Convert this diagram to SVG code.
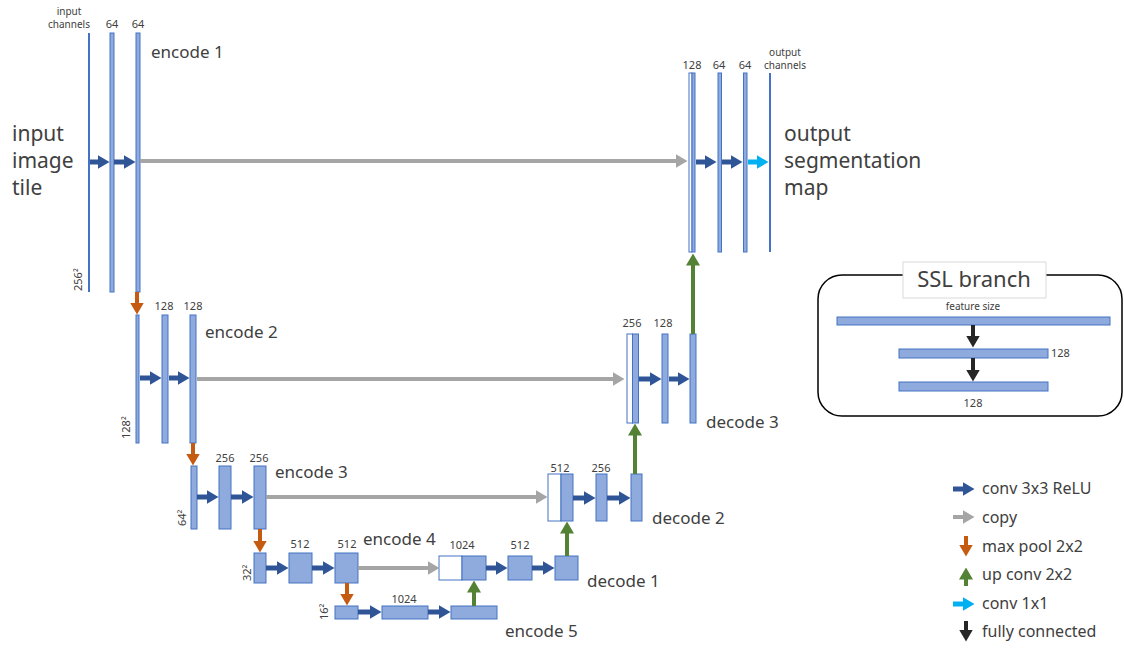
<svg xmlns="http://www.w3.org/2000/svg" width="1124" height="648" viewBox="0 0 1124 648">
<style>
text{font-family:"Noto Sans","Liberation Sans",sans-serif;fill:#404040}
.lay{fill:#8FAADC;stroke:#4472C4;stroke-width:1}
.wht{fill:#fff;stroke:#4472C4;stroke-width:1}
.ch{stroke:#4472C4;stroke-width:2}
.sz{font-size:11px;text-anchor:middle}
.tiny{font-size:10px;text-anchor:middle}
.name{font-size:17px}
.big{font-size:21px}
.rot{font-size:11px}
.leg{font-size:16px}
.conv{stroke:#2F5597;stroke-width:5;marker-end:url(#mConv)}
.copy{stroke:#A5A5A5;stroke-width:4;marker-end:url(#mCopy)}
.pool{stroke:#C55A11;stroke-width:4;marker-end:url(#mPool)}
.up{stroke:#548235;stroke-width:4;marker-end:url(#mUp)}
.c11{stroke:#00B0F0;stroke-width:5;marker-end:url(#m11)}
.fc{stroke:#262626;stroke-width:4;marker-end:url(#mFc)}
</style>
<defs>
<marker id="mConv" viewBox="0 0 12 14" markerWidth="12" markerHeight="14" refX="0.5" refY="7" orient="auto" markerUnits="userSpaceOnUse"><path d="M0,0 L12,7 L0,14 z" fill="#2F5597"/></marker>
<marker id="mCopy" viewBox="0 0 12 14" markerWidth="12" markerHeight="14" refX="0.5" refY="7" orient="auto" markerUnits="userSpaceOnUse"><path d="M0,0 L12,7 L0,14 z" fill="#A5A5A5"/></marker>
<marker id="mPool" viewBox="0 0 12 14" markerWidth="12" markerHeight="14" refX="0.5" refY="7" orient="auto" markerUnits="userSpaceOnUse"><path d="M0,0 L12,7 L0,14 z" fill="#C55A11"/></marker>
<marker id="mUp" viewBox="0 0 12 14" markerWidth="12" markerHeight="14" refX="0.5" refY="7" orient="auto" markerUnits="userSpaceOnUse"><path d="M0,0 L12,7 L0,14 z" fill="#548235"/></marker>
<marker id="m11" viewBox="0 0 12 14" markerWidth="12" markerHeight="14" refX="0.5" refY="7" orient="auto" markerUnits="userSpaceOnUse"><path d="M0,0 L12,7 L0,14 z" fill="#00B0F0"/></marker>
<marker id="mFc" viewBox="0 0 12 14" markerWidth="12" markerHeight="14" refX="0.5" refY="7" orient="auto" markerUnits="userSpaceOnUse"><path d="M0,0 L12,7 L0,14 z" fill="#262626"/></marker>
</defs>
<rect width="1124" height="648" fill="#fff"/>

<g id="input-label">
<text class="big" x="12" y="141">input</text>
<text class="big" x="12" y="168">image</text>
<text class="big" x="12" y="195">tile</text>
</g>
<g id="output-label">
<text class="big" x="784" y="141">output</text>
<text class="big" x="784" y="168">segmentation</text>
<text class="big" x="784" y="195">map</text>
</g>

<g id="encode1">
<line class="ch" x1="89" y1="33" x2="89" y2="292"/>
<rect class="lay" x="110" y="33" width="4" height="259"/>
<rect class="lay" x="136" y="33" width="4" height="259"/>
<text class="tiny" x="69" y="15">input</text>
<text class="tiny" x="69" y="28">channels</text>
<text class="sz" x="112" y="28">64</text>
<text class="sz" x="138" y="28">64</text>
<text class="name" x="151" y="58">encode 1</text>
<text class="rot" transform="translate(82,291) rotate(-90)">256²</text>
</g>

<g id="encode2">
<rect class="lay" x="136" y="315" width="3" height="128"/>
<rect class="lay" x="162" y="315" width="6" height="128"/>
<rect class="lay" x="190" y="315" width="6" height="128"/>
<text class="sz" x="164" y="310">128</text>
<text class="sz" x="193" y="310">128</text>
<text class="name" x="205" y="338">encode 2</text>
<text class="rot" transform="translate(130,439) rotate(-90)">128²</text>
</g>

<g id="encode3">
<rect class="lay" x="191" y="466" width="6" height="63"/>
<rect class="lay" x="219" y="466" width="12" height="63"/>
<rect class="lay" x="254" y="466" width="12" height="63"/>
<text class="sz" x="225" y="462">256</text>
<text class="sz" x="259" y="462">256</text>
<text class="name" x="275" y="478">encode 3</text>
<text class="rot" transform="translate(186,526) rotate(-90)">64²</text>
</g>

<g id="encode4">
<rect class="lay" x="254" y="553" width="12" height="30"/>
<rect class="lay" x="289" y="553" width="23" height="30"/>
<rect class="lay" x="335" y="553" width="23" height="30"/>
<text class="sz" x="300" y="548">512</text>
<text class="sz" x="347" y="548">512</text>
<text class="name" x="363" y="545">encode 4</text>
<text class="rot" transform="translate(251,581) rotate(-90)">32²</text>
</g>

<g id="encode5">
<rect class="lay" x="335" y="606" width="23" height="13"/>
<rect class="lay" x="382" y="606" width="46" height="13"/>
<rect class="lay" x="451" y="606" width="46" height="13"/>
<text class="sz" x="404" y="603">1024</text>
<text class="name" x="505" y="637">encode 5</text>
<text class="rot" transform="translate(328,620) rotate(-90)">16²</text>
</g>

<g id="decode1">
<rect class="wht" x="439" y="556" width="23" height="24"/>
<rect class="lay" x="462" y="556" width="24" height="24"/>
<rect class="lay" x="508" y="556" width="24" height="24"/>
<rect class="lay" x="555" y="556" width="23" height="24"/>
<text class="sz" x="462" y="549">1024</text>
<text class="sz" x="520" y="549">512</text>
<text class="name" x="587" y="587">decode 1</text>
</g>

<g id="decode2">
<rect class="wht" x="548" y="474" width="13" height="47"/>
<rect class="lay" x="561" y="474" width="12" height="47"/>
<rect class="lay" x="596" y="474" width="11" height="47"/>
<rect class="lay" x="631" y="474" width="11" height="47"/>
<text class="sz" x="560" y="472">512</text>
<text class="sz" x="601" y="472">256</text>
<text class="name" x="652" y="524">decode 2</text>
</g>

<g id="decode3">
<rect class="wht" x="627" y="334" width="5.5" height="89"/>
<rect class="lay" x="632.5" y="334" width="6" height="89"/>
<rect class="lay" x="662" y="334" width="6" height="89"/>
<rect class="lay" x="690" y="334" width="6" height="89"/>
<text class="sz" x="632" y="327">256</text>
<text class="sz" x="663" y="327">128</text>
<text class="name" x="706" y="428">decode 3</text>
</g>

<g id="output">
<rect class="wht" x="689" y="73" width="3" height="179"/>
<rect class="lay" x="692" y="73" width="3" height="179"/>
<rect class="lay" x="718" y="73" width="3.5" height="179"/>
<rect class="lay" x="743.5" y="73" width="3.5" height="179"/>
<line class="ch" x1="770" y1="73" x2="770" y2="252"/>
<text class="sz" x="692" y="69">128</text>
<text class="sz" x="719" y="69">64</text>
<text class="sz" x="745" y="69">64</text>
<text class="tiny" x="785" y="56">output</text>
<text class="tiny" x="785" y="69">channels</text>
</g>

<g id="connectors">
<line class="conv" x1="90" y1="162" x2="98" y2="162"/>
<line class="conv" x1="114" y1="162" x2="124" y2="162"/>
<line class="copy" x1="140" y1="161" x2="676" y2="161"/>
<line class="conv" x1="696" y1="162" x2="705" y2="162"/>
<line class="conv" x1="722" y1="162" x2="731" y2="162"/>
<line class="c11" x1="748" y1="162" x2="757" y2="162"/>

<line class="conv" x1="140" y1="378" x2="150" y2="378"/>
<line class="conv" x1="169" y1="378" x2="178" y2="378"/>
<line class="copy" x1="197" y1="379" x2="613" y2="379"/>
<line class="conv" x1="639" y1="379" x2="650" y2="379"/>
<line class="conv" x1="669" y1="379" x2="678" y2="379"/>

<line class="conv" x1="197" y1="497" x2="207" y2="497"/>
<line class="conv" x1="231" y1="497" x2="242" y2="497"/>
<line class="copy" x1="266" y1="497" x2="536" y2="497"/>
<line class="conv" x1="573" y1="498" x2="584" y2="498"/>
<line class="conv" x1="607" y1="498" x2="619" y2="498"/>

<line class="conv" x1="266" y1="568" x2="277" y2="568"/>
<line class="conv" x1="312" y1="568" x2="323" y2="568"/>
<line class="copy" x1="358" y1="568" x2="428" y2="568"/>
<line class="conv" x1="486" y1="568" x2="496" y2="568"/>
<line class="conv" x1="532" y1="568" x2="543" y2="568"/>

<line class="conv" x1="358" y1="612" x2="370" y2="612"/>
<line class="conv" x1="428" y1="612" x2="439" y2="612"/>

<line class="pool" x1="137" y1="292" x2="137" y2="303"/>
<line class="pool" x1="193" y1="443" x2="193" y2="454"/>
<line class="pool" x1="260" y1="529" x2="260" y2="541"/>
<line class="pool" x1="347" y1="583" x2="347" y2="594"/>

<line class="up" x1="474" y1="606" x2="474" y2="592"/>
<line class="up" x1="567" y1="556" x2="567" y2="533"/>
<line class="up" x1="635" y1="474" x2="635" y2="435"/>
<line class="up" x1="693" y1="334" x2="693" y2="265"/>
</g>

<g id="ssl-branch">
<rect x="818" y="275" width="304" height="141" rx="24" ry="24" fill="#fff" stroke="#000" stroke-width="1.5"/>
<rect x="903" y="262" width="143" height="36" fill="#fff" stroke="#D9D9D9" stroke-width="1"/>
<text x="974" y="287" font-size="22" text-anchor="middle">SSL branch</text>
<text class="tiny" x="973" y="310">feature size</text>
<rect class="lay" x="837" y="317" width="273" height="8"/>
<rect class="lay" x="899" y="349" width="149" height="9"/>
<rect class="lay" x="899" y="382" width="149" height="9"/>
<text x="1051" y="357" font-size="11">128</text>
<text class="sz" x="973" y="407">128</text>
<line class="fc" x1="973" y1="325" x2="973" y2="336"/>
<line class="fc" x1="973" y1="358" x2="973" y2="370"/>
</g>

<g id="legend">
<line class="conv" x1="953" y1="489" x2="963" y2="489"/>
<text class="leg" x="982" y="494">conv 3x3 ReLU</text>
<line class="copy" x1="953" y1="517" x2="963" y2="517"/>
<text class="leg" x="982" y="523">copy</text>
<line class="pool" x1="966" y1="536" x2="966" y2="545"/>
<text class="leg" x="982" y="552">max pool 2x2</text>
<line class="up" x1="966" y1="586" x2="966" y2="579"/>
<text class="leg" x="982" y="580">up conv 2x2</text>
<line class="c11" x1="953" y1="604" x2="963" y2="604"/>
<text class="leg" x="982" y="609">conv 1x1</text>
<line class="fc" x1="966" y1="621" x2="966" y2="630"/>
<text class="leg" x="982" y="637">fully connected</text>
</g>
</svg>
